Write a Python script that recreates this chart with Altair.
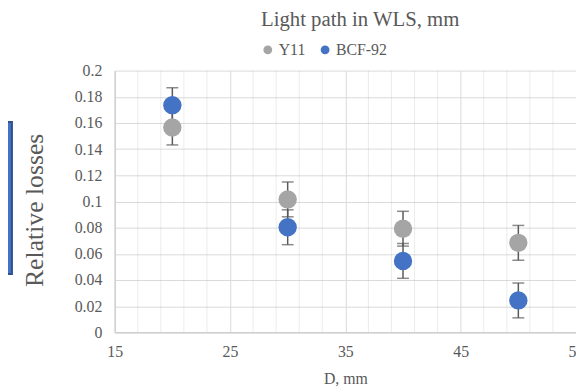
import altair as alt
import pandas as pd

# ---- data ----
d_mm = [20, 30, 40, 50]
y11 = [0.1565, 0.1016, 0.0792, 0.0684]
bcf92 = [0.1736, 0.0803, 0.0546, 0.0244]
err_y11 = [0.0133, 0.0133, 0.0133, 0.0133]
err_bcf92 = [0.0133, 0.0133, 0.0133, 0.0133]
series_names = ["Y11", "BCF-92"]
series_colors = ["#A5A5A5", "#4472C4"]
x_major = [15, 25, 35, 45, 55]
x_minor = [17, 19, 21, 23, 27, 29, 31, 33, 37, 39, 41, 43, 47, 49, 51, 53]
y_ticks = [0, 0.02, 0.04, 0.06, 0.08, 0.1, 0.12, 0.14, 0.16, 0.18, 0.2]

rows = []
for name, vals, errs in [("Y11", y11, err_y11), ("BCF-92", bcf92, err_bcf92)]:
    for d, v, e in zip(d_mm, vals, errs):
        rows.append({"D": d, "loss": v, "lo": v - e, "hi": v + e, "series": name})
df = pd.DataFrame(rows)
minor_df = pd.DataFrame({"D": x_minor})

FONT = "Liberation Serif"
TXT = "#595959"
ERR = "#595959"

xscale = alt.Scale(domain=[15, 55], nice=False, zero=False)
yscale = alt.Scale(domain=[0, 0.2], nice=False)

xaxis = alt.Axis(values=x_major, title="D, mm", grid=True, ticks=False, labelOverlap=False,
                 labelFlush=False, labelBound=False,
                 labelPadding=11, titlePadding=12, labelFont=FONT, titleFont=FONT,
                 labelFontSize=16, titleFontSize=16, labelColor=TXT, titleColor=TXT)
yaxis = alt.Axis(values=y_ticks, format="~g", title="Relative losses", grid=True,
                 ticks=False, labelPadding=13, labelOverlap=False, labelFlush=False,
                 labelFont=FONT, labelFontSize=16, labelColor=TXT, titleColor=TXT,
                 titleFont=FONT, titleFontSize=26, titleAngle=270,
                 titleX=-81, titleY=141, titleAlign="center", titleBaseline="middle")

X = alt.X("D:Q", scale=xscale, axis=xaxis)

minor = alt.Chart(minor_df).mark_rule(color="#bfbfbf", opacity=0.3, strokeWidth=1).encode(
    x=X, y=alt.value(0), y2=alt.value(265)
)

bars = alt.Chart(df).mark_rule(color=ERR, strokeWidth=1.5).encode(
    x=X, y=alt.Y("lo:Q", scale=yscale, axis=yaxis), y2="hi:Q"
)
cap_lo = alt.Chart(df).mark_tick(color=ERR, orient="horizontal", size=12, thickness=1.5).encode(
    x=X, y=alt.Y("lo:Q", scale=yscale, axis=yaxis)
)
cap_hi = alt.Chart(df).mark_tick(color=ERR, orient="horizontal", size=12, thickness=1.5).encode(
    x=X, y=alt.Y("hi:Q", scale=yscale, axis=yaxis)
)

points = alt.Chart(df).mark_circle(size=346, opacity=1).encode(
    x=X,
    y=alt.Y("loss:Q", scale=yscale, axis=yaxis),
    color=alt.Color("series:N", scale=alt.Scale(domain=series_names, range=series_colors),
                    sort=series_names,
                    legend=alt.Legend(orient="none", legendX=147, legendY=-29,
                                      direction="horizontal", title=None,
                                      symbolType="circle", symbolSize=80,
                                      labelOffset=3, columnPadding=12, padding=0,
                                      labelFont=FONT, labelFontSize=16, labelColor=TXT))
)

box = alt.Chart(pd.DataFrame({"k": [0]})).mark_rect(
    fill="#4472C4", stroke="#2F528F", strokeWidth=2
).encode(x=alt.value(-112), x2=alt.value(-104), y=alt.value(52), y2=alt.value(206))

chart = alt.layer(minor, bars, cap_lo, cap_hi, points, box).properties(
    width=467, height=265,
    autosize=alt.AutoSizeParams(type="none"),
    padding={"left": 108, "top": 61, "right": 0, "bottom": 58},
    title=alt.TitleParams("Light path in WLS, mm", font=FONT, fontSize=21, color=TXT,
                          fontWeight="normal", anchor="middle", frame="group",
                          baseline="alphabetic", offset=17, dx=15, dy=22)
).configure(font=FONT).configure_view(stroke="transparent").configure_axis(
    labelFont=FONT, labelFontSize=16, labelColor=TXT, labelOverlap=False,
    titleFont=FONT, titleFontSize=16, titleColor=TXT, titleFontWeight="normal",
    gridColor="#d9d9d9", gridWidth=1, domainColor="#d0d0d0", domainWidth=1.5
).configure_legend(labelFont=FONT)

chart.save("out.html", embed_options={"renderer": "svg", "actions": False})
